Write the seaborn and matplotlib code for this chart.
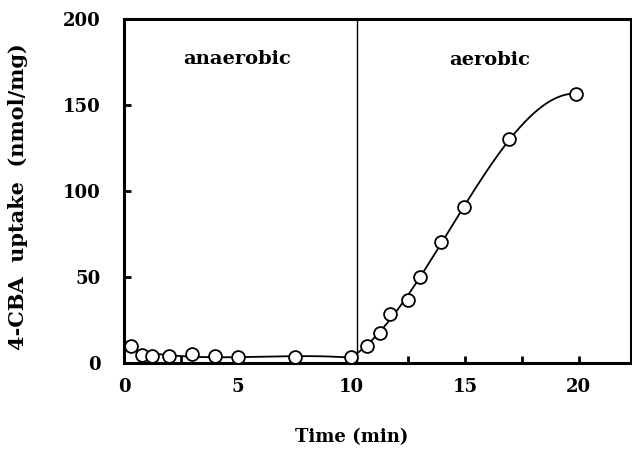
import numpy as np
import pandas as pd
import matplotlib
matplotlib.use("Agg")
import matplotlib.pyplot as plt
import seaborn as sns

# Data
anaerobic_time = [0.3, 0.8, 1.25, 2.0, 3.0, 4.0, 5.0, 7.5, 10.0]
anaerobic_uptake = [9.9, 4.6, 4.2, 4.0, 5.2, 3.9, 3.3, 3.3, 3.3]
aerobic_time = [10.7, 11.25, 11.7, 12.5, 13.0, 13.95, 14.95, 16.95, 19.9]
aerobic_uptake = [9.9, 17.6, 28.7, 36.6, 49.8, 70.2, 90.5, 130.0, 156.6]
switch_time = 10.25
x_ticks = [0, 5, 10, 15, 20]
y_ticks = [0, 50, 100, 150, 200]
phase_labels = ["anaerobic", "aerobic"]

sns.set_theme(style="ticks")
plt.rcParams['font.family'] = ['DejaVu Serif']
plt.rcParams['text.color'] = 'black'
plt.rcParams['axes.labelcolor'] = 'black'

fig = plt.figure(figsize=(6.32, 4.59), dpi=100)
ax = fig.add_axes([124/632, (459-363)/459, (631-124)/632, (363-19)/459])

# smooth curves fitted to the data
pa = np.polyfit(anaerobic_time, anaerobic_uptake, 3)
xa = np.linspace(anaerobic_time[0], anaerobic_time[-1], 100)
ya = np.polyval(pa, xa)
tb = [anaerobic_time[-1]] + aerobic_time
ub = [anaerobic_uptake[-1]] + aerobic_uptake
pb = np.polyfit(tb, ub, 3)
xb = np.linspace(tb[0], tb[-1], 200)
yb = np.polyval(pb, xb)

curve = pd.DataFrame({"t": np.concatenate([xa, xb]), "u": np.concatenate([ya, yb])})
sns.lineplot(data=curve, x="t", y="u", ax=ax, color="black", lw=1.3, sort=False)

pts = pd.DataFrame({"t": anaerobic_time + aerobic_time,
                    "u": anaerobic_uptake + aerobic_uptake})
sns.scatterplot(data=pts, x="t", y="u", ax=ax, s=85, facecolor="white",
                edgecolor="black", linewidth=1.3, zorder=3)

ax.axvline(switch_time, color="black", lw=1.0)

ax.set_xlim(0, 22.3)
ax.set_ylim(0, 200)
xt = np.arange(0, 22.5, 2.5)
ax.set_xticks(xt)
ax.set_xticklabels([str(int(v)) if v in x_ticks else "" for v in xt])
ax.set_yticks(y_ticks)
ax.tick_params(direction="in", length=5, width=2, colors="black", labelsize=13)
ax.tick_params(axis="x", pad=11)
ax.tick_params(axis="y", pad=17)
for lab in ax.get_xticklabels() + ax.get_yticklabels():
    lab.set_fontweight("bold")
for s in ax.spines.values():
    s.set_linewidth(2.2)
    s.set_color("black")

ax.text(5.0, 177, phase_labels[0], ha="center", va="center", fontsize=14, fontweight="bold")
ax.text(16.1, 176, phase_labels[1], ha="center", va="center", fontsize=14, fontweight="bold")

ax.set_xlabel("Time (min)", fontsize=13, fontweight="bold", va="center")
ax.xaxis.set_label_coords((352-124)/507, (363-437)/344)
ax.set_ylabel("4-CBA  uptake  (nmol/mg)", fontsize=15, fontweight="bold", va="center")
ax.yaxis.set_label_coords((18-124)/507, (363-197)/344)

fig.savefig("out.png", dpi=100)
